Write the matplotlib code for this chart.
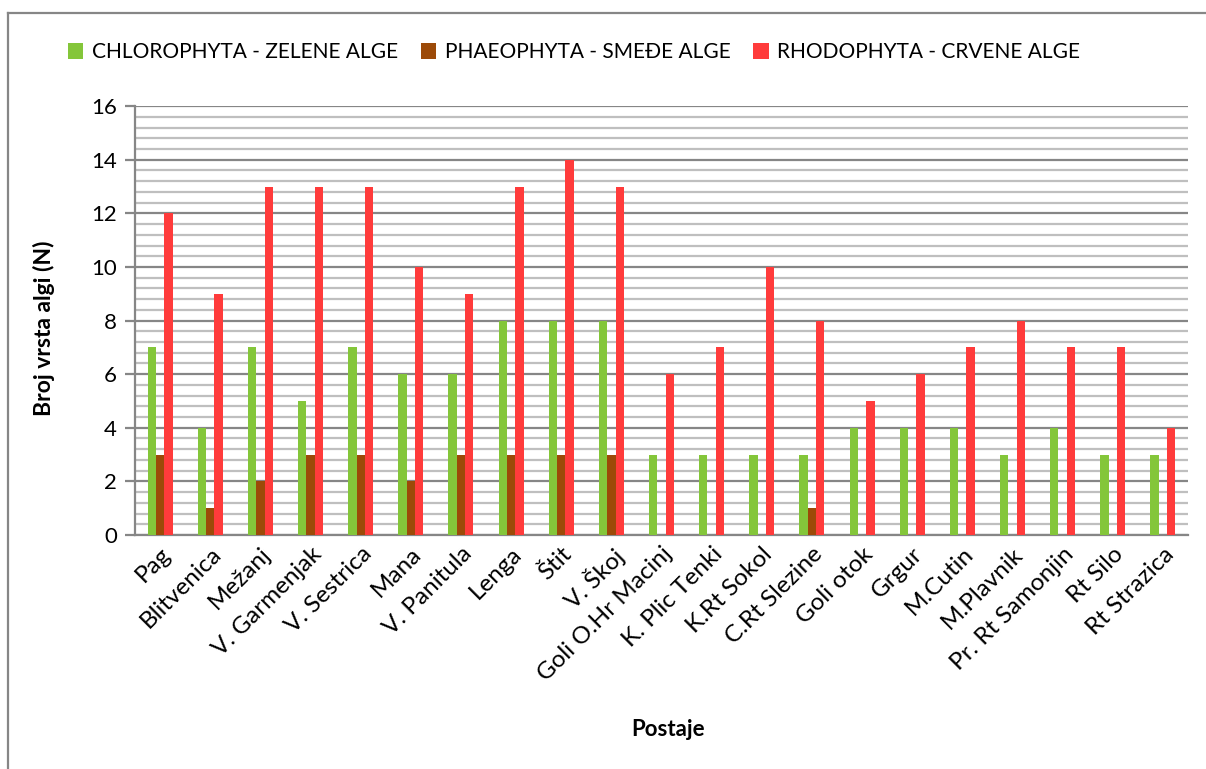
import numpy as np
import matplotlib
matplotlib.use('Agg')
import matplotlib.pyplot as plt
from matplotlib.lines import Line2D
from matplotlib.ticker import MultipleLocator

plt.rcParams['font.family'] = ['Lato', 'DejaVu Sans']

# Stations and species counts per algae group
stations = ['Pag', 'Blitvenica', 'Mežanj', 'V. Garmenjak', 'V. Sestrica', 'Mana',
            'V. Panitula', 'Lenga', 'Štit', 'V. Škoj', 'Goli O.Hr Macinj',
            'K. Plic Tenki', 'K.Rt Sokol', 'C.Rt Slezine', 'Goli otok', 'Grgur',
            'M.Cutin', 'M.Plavnik', 'Pr. Rt Samonjin', 'Rt Silo', 'Rt Strazica']
chlorophyta = [7, 4, 7, 5, 7, 6, 6, 8, 8, 8, 3, 3, 3, 3, 4, 4, 4, 3, 4, 3, 3]
phaeophyta = [3, 1, 2, 3, 3, 2, 3, 3, 3, 3, 0, 0, 0, 1, 0, 0, 0, 0, 0, 0, 0]
rhodophyta = [12, 9, 13, 13, 13, 10, 9, 13, 14, 13, 6, 7, 10, 8, 5, 6, 7, 8, 7, 7, 4]

series_names = ['CHLOROPHYTA - ZELENE ALGE', 'PHAEOPHYTA - SMEĐE ALGE', 'RHODOPHYTA - CRVENE ALGE']
colors = ['#84c63a', '#9c4a08', '#ff3b3b']

fig = plt.figure(figsize=(12.06, 7.69), dpi=100)
ax = fig.add_axes([0.112, 0.3043, 0.873, 0.5577])

x = np.arange(len(stations))
w = 0.166
for i, (vals, name, c) in enumerate(zip([chlorophyta, phaeophyta, rhodophyta], series_names, colors)):
    ax.bar(x + (i - 1) * w, vals, width=w, color=c, label=name, zorder=3)

ax.set_xlim(-0.5, len(stations) - 0.5)
ax.set_ylim(0, 16)
ax.yaxis.set_major_locator(MultipleLocator(2))
ax.yaxis.set_minor_locator(MultipleLocator(0.4))
ax.grid(which='major', axis='y', color='#868686', linewidth=1.6, zorder=1)
ax.grid(which='minor', axis='y', color='#bfbfbf', linewidth=1.6, zorder=1)

for s in ['top', 'right']:
    ax.spines[s].set_visible(False)
for s in ['left', 'bottom']:
    ax.spines[s].set_color('#868686')
    ax.spines[s].set_linewidth(1.6)

ax.tick_params(axis='y', which='major', length=7, width=1.6, color='#868686',
               labelsize=16, pad=6)
ax.tick_params(axis='y', which='minor', length=0)
ax.tick_params(axis='x', length=0, pad=6)
ax.set_yticks(np.arange(0, 17, 2))
ax.set_xticks(x)
ax.set_xticklabels(stations, rotation=45, ha='right', rotation_mode='anchor', fontsize=17.5)

ax.set_ylabel('Broj vrsta algi (N)', fontsize=16.5, fontweight='bold')
ax.yaxis.set_label_coords(-0.076, 0.4825)
ax.set_xlabel('Postaje', fontsize=16, fontweight='bold')
ax.xaxis.set_label_coords(0.506, -0.43)

fig.legend(loc='center', bbox_to_anchor=(0.476, 0.932), ncol=3, frameon=False,
           fontsize=15, handlelength=0.75, handleheight=0.75, handletextpad=0.4,
           columnspacing=1.1)

# chart frame (left and top edges only visible)
x0 = 8 / 1206
y0 = 1 - 13 / 769
fig.add_artist(Line2D([x0, x0], [0, y0], transform=fig.transFigure,
                      color='#868686', linewidth=1.6))
fig.add_artist(Line2D([x0, 1], [y0, y0], transform=fig.transFigure,
                      color='#868686', linewidth=1.6))

fig.savefig('out.png', dpi=100)
